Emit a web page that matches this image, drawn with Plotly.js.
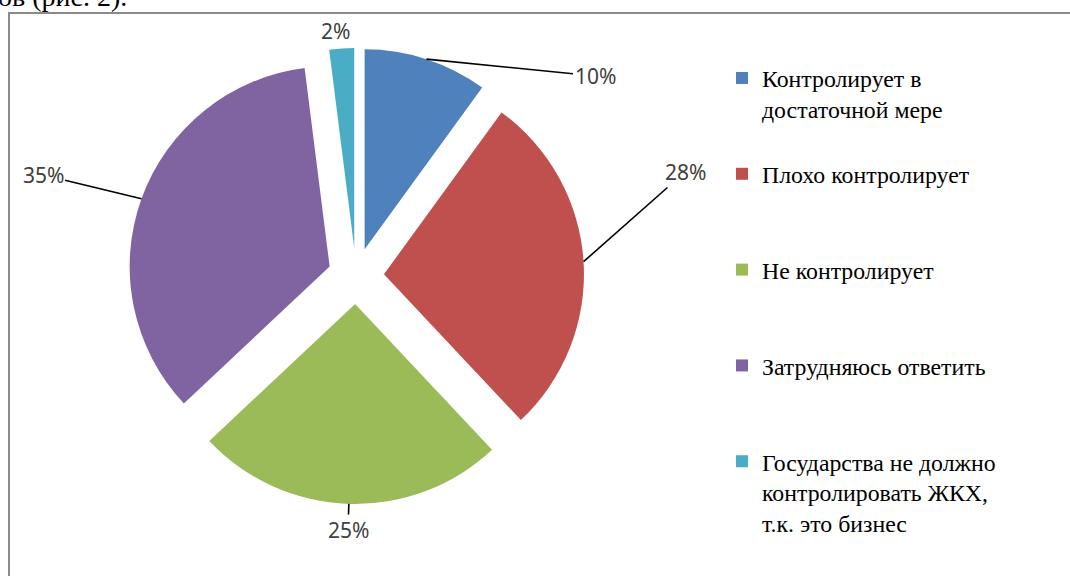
<!DOCTYPE html>
<html>
<head>
<meta charset="utf-8">
<script src="https://cdn.plot.ly/plotly-3.0.1.min.js"></script>
<style>
  body { margin: 0; background: #fff; }
  #chart { width: 1070px; height: 576px; }
</style>
</head>
<body>
<div id="chart"></div>
<script>
// Chart data
const categories = [
    'Контролирует в<br>достаточной мере',
    'Плохо контролирует',
    'Не контролирует',
    'Затрудняюсь ответить',
    'Государства не должно<br>контролировать ЖКХ,<br>т.к. это бизнес'
];
const shares = [10, 28, 25, 35, 2];

// Styling / placement (not data)
const colors = ['#4F81BD', '#C0504D', '#9BBB59', '#8064A2', '#4BACC6'];
const labelPos = [[595, 76], [685, 172], [348, 530], [43, 175], [335, 31]]; // px
const leader = [true, true, true, true, false];

const W = 1070, H = 576;
const pull = 0.14;

// pad every legend entry to 3 lines so the entries are evenly spaced
let legendLabels = categories.map(function (c) {
    let n = c.split('<br>').length;
    let s = c;
    for (let k = n; k < 3; k++) s += '<br>\u00a0';
    return s;
});

let trace = {
    type: 'pie',
    labels: legendLabels,
    values: shares,
    sort: false,
    direction: 'clockwise',
    rotation: 0,
    pull: pull,
    textinfo: 'none',
    hoverinfo: 'percent',
    marker: { colors: colors, line: { width: 0 } },
    domain: { x: [(356 - 228) / W, (356 + 228) / W], y: [(300 - 228) / H, (300 + 228) / H] }
};

let layout = {
    width: W,
    height: H,
    margin: { l: 0, r: 0, t: 0, b: 0 },
    paper_bgcolor: '#ffffff',
    showlegend: true,
    legend: {
        x: 722 / W, xanchor: 'left',
        y: 1 - 56 / H, yanchor: 'top',
        valign: 'top',
        font: { family: "'Liberation Serif', 'Times New Roman', serif", size: 23.8, color: '#000000' },
        bgcolor: 'rgba(0,0,0,0)'
    },
    shapes: [{
        type: 'rect', xref: 'paper', yref: 'paper',
        x0: 9 / W, x1: 1.2, y0: -0.2, y1: 1 - 13 / H,
        line: { color: '#8a8a8a', width: 2 }
    }],
    annotations: [{
        // tail of the document sentence above the chart (cut off, as in the source)
        text: 'ов (рис. 2).',
        xref: 'paper', yref: 'paper',
        x: -4 / W, xanchor: 'left',
        y: 1 - 14 / H, yanchor: 'bottom',
        showarrow: false,
        font: { family: "'Liberation Serif', 'Times New Roman', serif", size: 28, color: '#000000' }
    }]
};

let config = { displayModeBar: false, staticPlot: true };

Plotly.newPlot('chart', [trace], layout, config).then(function (gd) {
    // percent labels with leader lines, anchored on the pulled slices
    const cd = gd.calcdata[0];
    const cx = cd[0].cx, cy = cd[0].cy;
    let anns = cd.map(function (pt) {
        const i = pt.i;
        const hx = cx + pt.pxmid[0] * (1 + pull);
        const hy = cy + pt.pxmid[1] * (1 + pull);
        const lx = labelPos[i][0], ly = labelPos[i][1];
        const a = {
            text: shares[i] + '%',
            xref: 'paper', yref: 'paper',
            xanchor: 'center', yanchor: 'middle',
            font: { family: "'Noto Sans', 'DejaVu Sans', sans-serif", size: 21, color: '#404040' }
        };
        if (leader[i]) {
            a.x = hx / W; a.y = 1 - hy / H;
            a.ax = lx - hx; a.ay = ly - hy;
            a.showarrow = true; a.arrowhead = 0; a.arrowwidth = 1.6;
            a.arrowcolor = '#000000'; a.standoff = 0;
        } else {
            a.x = lx / W; a.y = 1 - ly / H;
            a.showarrow = false;
        }
        return a;
    });
    Plotly.relayout(gd, { annotations: layout.annotations.concat(anns) });
});
</script>
</body>
</html>
